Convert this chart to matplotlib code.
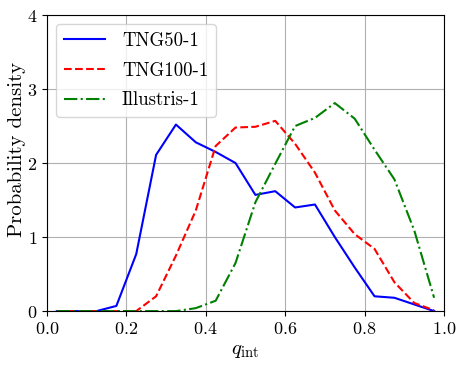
import numpy as np
import matplotlib
matplotlib.use('Agg')
import matplotlib.pyplot as plt

# Bin centres and probability densities
q_bins = [0.025, 0.075, 0.125, 0.175, 0.225, 0.275, 0.325, 0.375, 0.425, 0.475,
          0.525, 0.575, 0.625, 0.675, 0.725, 0.775, 0.825, 0.875, 0.925, 0.975]
tng50 = [0.0, 0.0, 0.0, 0.07, 0.77, 2.11, 2.52, 2.28, 2.15, 2.0,
         1.57, 1.62, 1.40, 1.44, 1.0, 0.59, 0.20, 0.18, 0.09, 0.0]
tng100 = [0.0, 0.0, 0.0, 0.0, 0.0, 0.2, 0.75, 1.36, 2.23, 2.48,
          2.49, 2.57, 2.26, 1.87, 1.36, 1.04, 0.84, 0.39, 0.11, 0.01]
illustris = [0.0, 0.0, 0.0, 0.0, 0.0, 0.0, 0.0, 0.04, 0.14, 0.65,
             1.47, 1.99, 2.50, 2.61, 2.81, 2.60, 2.18, 1.78, 1.09, 0.18]

plt.rcParams['font.family'] = 'serif'
plt.rcParams['font.serif'] = ['cmr10']
plt.rcParams['mathtext.fontset'] = 'cm'
plt.rcParams['axes.formatter.use_mathtext'] = True
plt.rcParams['font.size'] = 13

fig = plt.figure(figsize=(4.64, 3.66), dpi=100)
ax = fig.add_axes([0.101, 0.15, 0.856, 0.809])

ax.plot(q_bins, tng50, color='blue', ls='-', lw=1.5, label='TNG50-1')
ax.plot(q_bins, tng100, color='red', ls='--', lw=1.5, label='TNG100-1')
ax.plot(q_bins, illustris, color='green', ls='-.', lw=1.5, label='Illustris-1')

ax.set_xlim(0, 1)
ax.set_ylim(0, 4)
ax.set_xticks([0.0, 0.2, 0.4, 0.6, 0.8, 1.0])
ax.set_yticks([0, 1, 2, 3, 4])
ax.grid(True, color='#b0b0b0')
ax.set_xlabel(r'$q_{\rm int}$', fontsize=15)
ax.set_ylabel('Probability density', fontsize=15)
ax.yaxis.set_label_coords(-0.053, 0.547)
ax.legend(loc='upper left', fontsize=13.5, handlelength=2.2,
          handletextpad=0.9, labelspacing=0.63)

fig.savefig('out.png', dpi=100)
